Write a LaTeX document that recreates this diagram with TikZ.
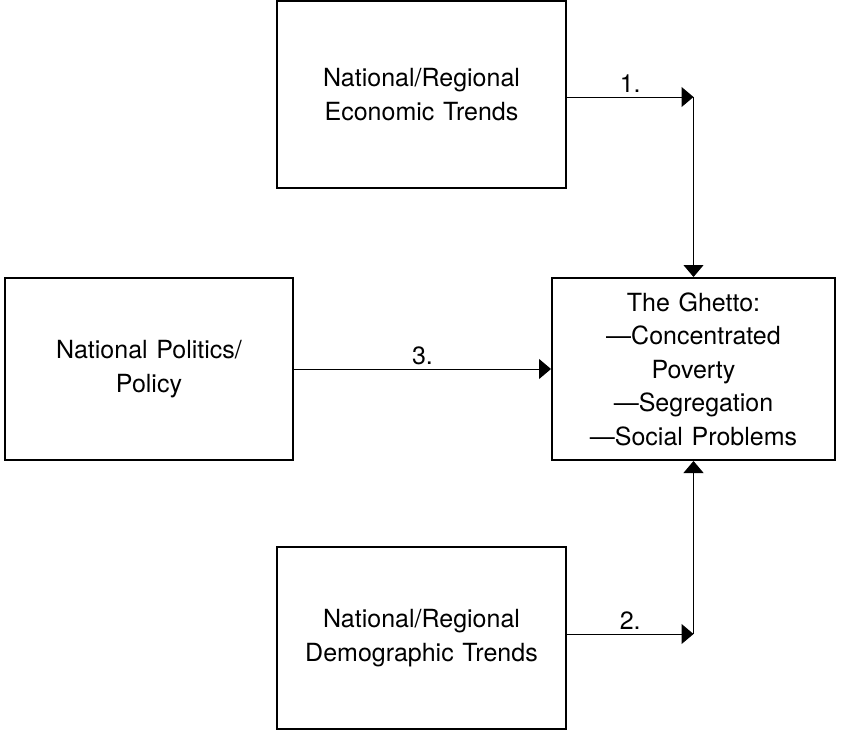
\documentclass[tikz,border=0pt]{standalone}
\usepackage{fontspec}
\setmainfont[WordSpace={1.25}]{TeX Gyre Heros}
\usetikzlibrary{arrows.meta}

\begin{document}
\begin{tikzpicture}[
    x = 1pt, y = -1pt,
    font = \fontsize{25}{33.5}\selectfont,
    factor/.style = {draw, line width = 2pt, align = center, inner sep = 0pt},
    link/.style = {line width = 1pt, -{Triangle[length=12pt, width=20pt]}}]

\useasboundingbox (0,0) rectangle (842,731);

\node[factor, minimum width = 289, minimum height = 187] (econ) at (421.5,94.5)
	{National/Regional\\Economic Trends};
\node[factor, minimum width = 288, minimum height = 182] (politics) at (149,369)
	{National Politics/\\Policy};
\node[factor, minimum width = 283, minimum height = 182] (ghetto) at (693.5,369)
	{The Ghetto:\\---Concentrated\\Poverty\\---Segregation\\---Social Problems};
\node[factor, minimum width = 289, minimum height = 182] (demo) at (421.5,638)
	{National/Regional\\Demographic Trends};

\coordinate (j1) at ([yshift=-2.5pt] ghetto.north |- econ.east);
\coordinate (j2) at ([yshift=4pt] ghetto.south |- demo.east);

\draw[link] (econ.east |- j1) -- (j1) node[midway, above, inner sep = 4pt] {1.};
\draw[link] (j1) -- (ghetto.north);
\draw[link] (demo.east |- j2) -- (j2) node[midway, above, inner sep = 4pt] {2.};
\draw[link] (j2) -- (ghetto.south);
\draw[link] (politics.east) -- (ghetto.west) node[midway, above, inner sep = 4pt] {3.};
\end{tikzpicture}
\end{document}
